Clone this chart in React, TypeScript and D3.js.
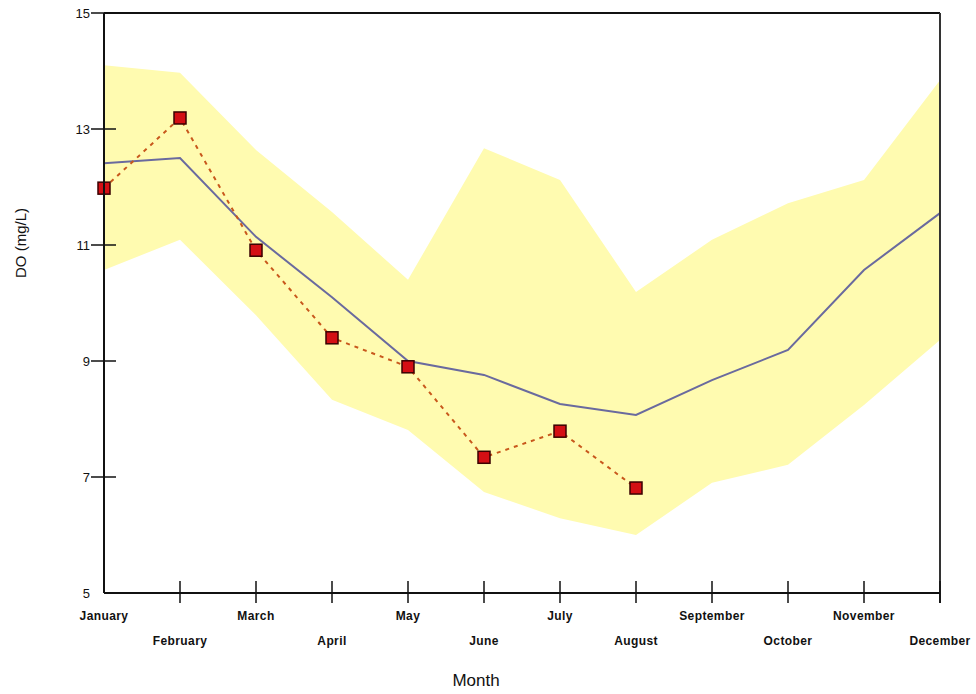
import React from "react";
import * as d3 from "d3";

const months = [
  "January", "February", "March", "April", "May", "June",
  "July", "August", "September", "October", "November", "December",
];
// band of historical range (max / min), long-term mean, and this year's readings
const bandHigh = [14.1, 13.97, 12.64, 11.57, 10.4, 12.67, 12.12, 10.19, 11.09, 11.72, 12.12, 13.84];
const bandLow = [10.57, 11.09, 9.79, 8.33, 7.81, 6.74, 6.29, 6.0, 6.9, 7.21, 8.24, 9.36];
const meanDO = [12.41, 12.5, 11.14, 10.1, 9.0, 8.76, 8.26, 8.07, 8.67, 9.19, 10.57, 11.55];
const observedDO = [11.98, 13.19, 10.91, 9.4, 8.9, 7.34, 7.79, 6.81];
const yTicks = [5, 7, 9, 11, 13, 15];

export default function App() {
  const width = 976;
  const height = 694;
  const left = 104, right = 940, top = 13, bottom = 593;

  const x = d3.scalePoint<string>().domain(months).range([left, right]).padding(0);
  const y = d3.scaleLinear().domain([5, 15]).range([bottom, top]);

  const area = d3
    .area<number>()
    .x((_, i) => x(months[i])!)
    .y0((_, i) => y(bandLow[i]))
    .y1((d) => y(d));

  const line = d3
    .line<number>()
    .x((_, i) => x(months[i])!)
    .y((d) => y(d));

  const font = "'Liberation Sans', Arial, sans-serif";

  return (
    <svg width={width} height={height} style={{ position: "absolute", left: 0, top: 0, background: "#fff" }}>
      <path d={area(bandHigh) ?? ""} fill="#fffbb0" />
      <path d={line(meanDO) ?? ""} fill="none" stroke="#6a6a9e" strokeWidth={2} />
      <path d={line(observedDO) ?? ""} fill="none" stroke="#c8581c" strokeWidth={2} strokeDasharray="4,5" />
      {observedDO.map((d, i) => (
        <rect
          key={i}
          x={x(months[i])! - 6}
          y={y(d) - 6}
          width={12}
          height={12}
          fill="#d40f14"
          stroke="#3a0000"
          strokeWidth={1.5}
        />
      ))}

      {/* frame */}
      <line x1={left} x2={right} y1={top} y2={top} stroke="#111" strokeWidth={2} />
      <line x1={right} x2={right} y1={top} y2={bottom + 10} stroke="#333" strokeWidth={2} />
      <line x1={left} x2={left} y1={top} y2={bottom} stroke="#111" strokeWidth={2} />
      <line x1={left} x2={right} y1={bottom} y2={bottom} stroke="#111" strokeWidth={2} />

      {/* y axis */}
      {yTicks.map((t) => (
        <g key={t}>
          {t !== 5 && (
            <line x1={left - 13} x2={left + 12} y1={y(t)} y2={y(t)} stroke="#111" strokeWidth={1.5} />
          )}
          <text
            x={left - 14}
            y={y(t)}
            dy="0.35em"
            textAnchor="end"
            fontFamily={font}
            fontSize={13}
            fill="#111"
          >
            {t}
          </text>
        </g>
      ))}

      {/* x axis */}
      {months.map((m, i) => (
        <g key={m}>
          {i > 0 && (
            <line x1={x(m)} x2={x(m)} y1={bottom - 12} y2={bottom + 10} stroke="#111" strokeWidth={1.5} />
          )}
          <text
            x={x(m)}
            y={i % 2 === 0 ? 620 : 645}
            textAnchor="middle"
            fontFamily={font}
            fontSize={12}
            fontWeight="bold"
            letterSpacing={0.4}
            fill="#111"
          >
            {m}
          </text>
        </g>
      ))}

      <text x={476} y={686} textAnchor="middle" fontFamily={font} fontSize={17} fill="#111">
        Month
      </text>
      <text
        transform={`translate(26, ${(top + bottom) / 2 - 60}) rotate(-90)`}
        textAnchor="middle"
        fontFamily={font}
        fontSize={15}
        fill="#111"
      >
        DO (mg/L)
      </text>
    </svg>
  );
}
